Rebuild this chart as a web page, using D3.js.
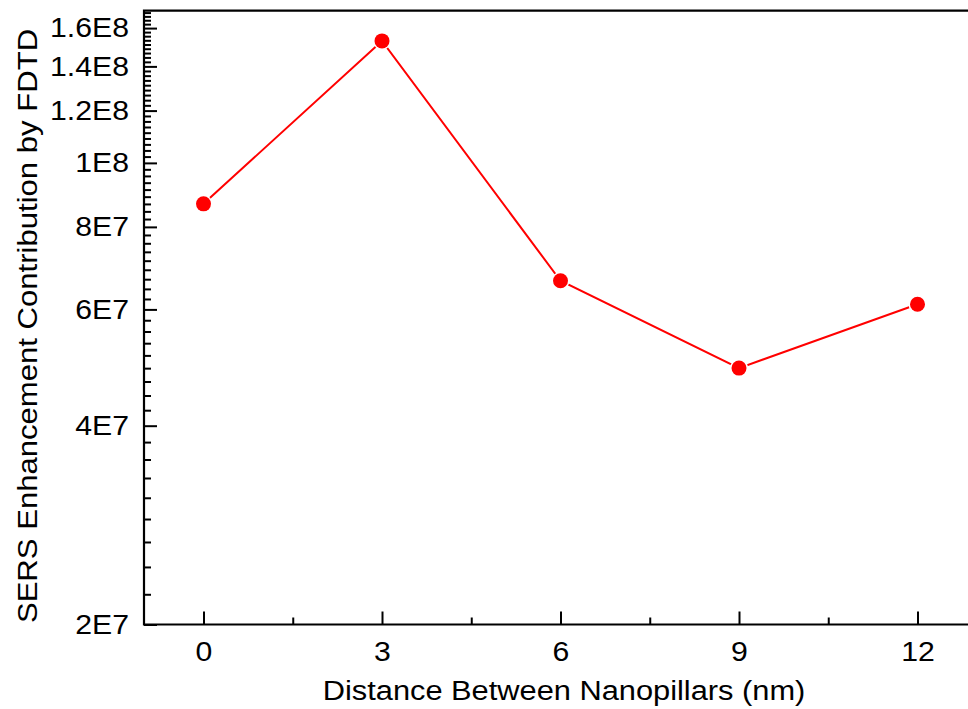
<!DOCTYPE html>
<html>
<head>
<meta charset="utf-8">
<script src="https://cdn.jsdelivr.net/npm/d3@7"></script>
<style>
  html, body { margin: 0; padding: 0; background: #fff; }
  svg { display: block; }
  text { font-family: "Liberation Sans", Arial, sans-serif; fill: #000; }
</style>
</head>
<body>
<svg id="chart" width="968" height="709"></svg>
<script>
// Gap between nanopillars (nm) and the FDTD enhancement factor at each gap
const gaps = [0, 3, 6, 9, 12];
const enhancement = [8.67e7, 1.53e8, 6.63e7, 4.89e7, 6.11e7];

// Axis ticks
const xMajorTicks = [0, 3, 6, 9, 12];
const xMinorTicks = [1.5, 4.5, 7.5, 10.5];
const yMajorTicks = [2e7, 4e7, 6e7, 8e7, 1e8, 1.2e8, 1.4e8, 1.6e8];
const yTickLabels = ["2E7", "4E7", "6E7", "8E7", "1E8", "1.2E8", "1.4E8", "1.6E8"];
const yMinorPerMajor = 8;

const xTitle = "Distance Between Nanopillars (nm)";
const yTitle = "SERS Enhancement Contribution by FDTD";

const svg = d3.select("#chart");
const plot = { left: 144, top: 10.7, right: 977, bottom: 624.5 };

const x = d3.scaleLinear().domain([-1, 13]).range([plot.left, plot.right]);
const y = d3.scaleLog().domain([2e7, 1.7e8]).range([plot.bottom, plot.top]);

// Minor y ticks: evenly spaced values inside each major step, up to the top of the axis
const yStep = yMajorTicks[1] - yMajorTicks[0];
const yMinorTicks = [];
for (let v0 = yMajorTicks[0]; v0 < y.domain()[1]; v0 += yStep) {
  for (let k = 1; k <= yMinorPerMajor; k++) {
    const v = v0 + k * yStep / (yMinorPerMajor + 1);
    if (v < y.domain()[1]) yMinorTicks.push(v);
  }
}

const labelFont = 27, labelStretch = 1.12;
const titleFont = 28, titleStretch = 1.1;

// x axis: inward ticks
const gx = svg.append("g").attr("transform", `translate(0,${plot.bottom})`);
gx.call(d3.axisBottom(x).tickValues(xMinorTicks).tickSize(-7).tickFormat(""));
gx.selectAll(".tick line").attr("stroke-width", 2);
const gxMaj = svg.append("g").attr("transform", `translate(0,${plot.bottom})`)
  .call(d3.axisBottom(x).tickValues(xMajorTicks).tickSize(-13).tickPadding(17).tickFormat(d3.format("d")));
gxMaj.selectAll(".tick line").attr("stroke-width", 2);
gxMaj.selectAll(".tick text")
  .attr("font-size", labelFont)
  .attr("font-family", null)
  .attr("transform", `scale(${labelStretch},1)`);
[gx, gxMaj].forEach(g => g.select(".domain").remove());

// y axis: inward ticks
const gy = svg.append("g").attr("transform", `translate(${plot.left},0)`);
gy.call(d3.axisLeft(y).tickValues(yMinorTicks).tickSize(-7).tickFormat(""));
gy.selectAll(".tick line").attr("stroke-width", 2);
const gyMaj = svg.append("g").attr("transform", `translate(${plot.left},0)`)
  .call(d3.axisLeft(y).tickValues(yMajorTicks).tickSize(-13).tickPadding(15)
    .tickFormat((d, i) => yTickLabels[i]));
gyMaj.selectAll(".tick line").attr("stroke-width", 2);
gyMaj.selectAll(".tick text")
  .attr("font-size", labelFont)
  .attr("font-family", null)
  .attr("x", 0)
  .attr("transform", `translate(-15,0) scale(${labelStretch},1)`);
[gy, gyMaj].forEach(g => g.select(".domain").remove());

// Frame: left, bottom and top lines
svg.append("path")
  .attr("d", `M${plot.right},${plot.top}H${plot.left}V${plot.bottom}H${plot.right}`)
  .attr("fill", "none").attr("stroke", "#000").attr("stroke-width", 2.2);

// Data line and markers
const pts = gaps.map((g, i) => [x(g), y(enhancement[i])]);
svg.append("path")
  .attr("d", d3.line()(pts))
  .attr("fill", "none").attr("stroke", "#ff0000").attr("stroke-width", 2);
svg.append("g").selectAll("circle").data(pts).join("circle")
  .attr("cx", d => d[0]).attr("cy", d => d[1]).attr("r", 7.5)
  .attr("fill", "#ff0000").attr("stroke", "#fff").attr("stroke-width", 3)
  .attr("paint-order", "stroke");

// Axis titles
svg.append("text")
  .attr("transform", `translate(564,700) scale(${titleStretch},1)`)
  .attr("text-anchor", "middle").attr("font-size", titleFont)
  .text(xTitle);
svg.append("text")
  .attr("transform", `translate(36.5,326) rotate(-90) scale(1.11,1)`)
  .attr("text-anchor", "middle").attr("font-size", titleFont)
  .text(yTitle);
</script>
</body>
</html>
